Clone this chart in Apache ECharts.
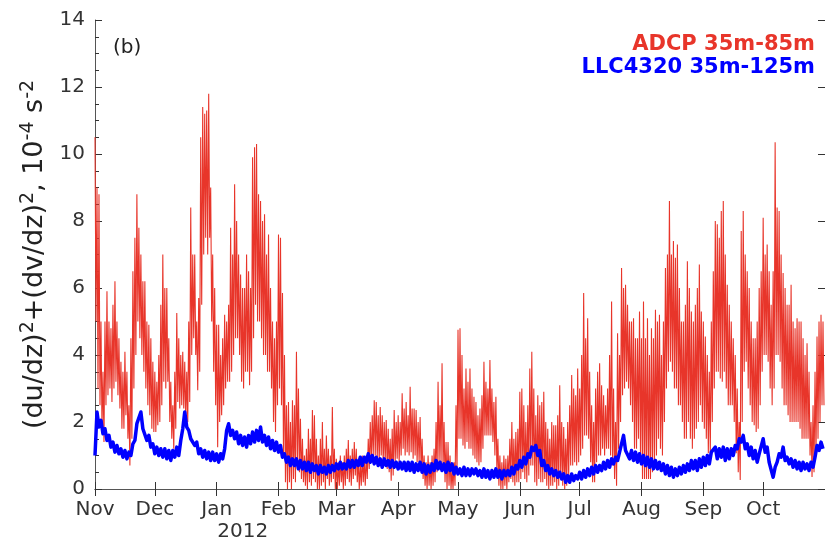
<!DOCTYPE html>
<html>
<head>
<meta charset="utf-8">
<script src="https://cdn.jsdelivr.net/npm/echarts@6/dist/echarts.min.js"></script>
<style>html,body{margin:0;padding:0;background:#fff}#c{width:825px;height:543px}</style>
</head>
<body>
<div id="c"></div>
<script>
// Daily readings, 1 Nov 2011 .. 31 Oct 2012
const startDate = '2011-11-01';
const monthNames = ['Jan','Feb','Mar','Apr','May','Jun','Jul','Aug','Sep','Oct','Nov','Dec'];
const yearLabel = '2012';
const yTicks = {min: 0, max: 14, interval: 2};
const adcpName = 'ADCP 35m-85m';
const llcName = 'LLC4320 35m-125m';

// ADCP daily maximum
const adcpMax = [
10.5,9.0,8.8,5.0,3.5,5.0,5.9,5.0,4.8,5.5,
6.2,5.0,4.5,3.8,3.5,4.1,3.5,2.5,4.5,6.5,
7.5,8.8,7.8,7.0,6.2,6.2,5.0,4.9,4.5,3.8,
3.5,3.2,4.0,5.5,7.0,6.0,6.0,4.5,3.2,2.5,
3.5,5.25,4.5,4.0,4.1,3.8,3.5,5.0,8.4,7.0,
7.0,5.0,5.7,10.5,11.4,11.2,11.3,11.8,9.0,7.0,
6.0,4.9,4.9,4.0,4.5,5.2,5.0,5.5,7.8,7.0,
9.1,8.0,7.0,6.4,6.0,6.0,7.0,6.5,6.0,9.9,
10.2,10.3,8.8,8.6,8.0,8.2,7.0,7.6,6.0,5.0,
4.5,5.0,7.6,7.5,5.85,4.0,2.5,2.6,2.0,2.65,
2.5,4.1,3.0,2.1,1.5,1.0,1.2,1.8,1.5,2.36,
2.2,1.5,1.0,1.5,2.0,1.2,1.6,1.2,1.0,2.45,
1.2,0.9,0.8,1.0,0.8,1.0,1.2,1.46,1.0,1.2,
1.4,1.2,0.9,0.8,1.0,0.9,1.0,1.5,2.0,2.2,
2.65,2.6,2.2,2.45,2.2,2.0,2.06,1.8,1.5,1.8,
2.36,2.0,2.2,2.0,2.86,2.4,2.6,2.2,3.05,2.4,
2.4,2.36,2.0,2.15,1.5,1.0,0.8,1.0,0.8,1.0,
1.2,2.0,3.2,2.5,3.75,2.0,1.4,1.4,1.0,0.6,
0.8,2.5,4.75,4.8,4.0,3.0,3.6,3.2,3.6,3.0,
2.75,2.6,2.2,2.4,2.8,3.8,3.2,3.0,3.85,3.0,
2.6,2.75,1.5,1.0,0.8,1.0,0.9,1.0,1.5,2.0,
1.5,1.7,1.8,2.9,3.0,2.5,2.0,2.5,3.6,4.1,
3.0,2.2,2.8,2.5,2.6,2.9,2.0,1.8,1.5,2.0,
1.9,1.9,2.2,3.1,2.0,1.85,1.5,2.0,2.5,3.4,
3.0,2.8,3.6,3.0,4.0,5.85,4.5,5.1,3.5,2.5,
2.0,3.0,3.5,3.75,3.1,2.8,2.5,3.0,4.0,5.6,
3.0,2.0,4.65,4.0,6.6,6.0,6.1,5.5,5.0,5.0,
5.1,4.5,4.5,5.3,4.5,5.6,4.5,5.1,4.0,4.8,
4.5,5.35,5.0,5.2,4.0,5.0,6.6,7.0,8.6,7.0,
7.4,6.9,7.3,6.0,5.0,5.0,5.5,6.8,6.0,5.3,
5.0,5.5,6.0,6.7,5.3,5.0,4.55,4.0,3.5,5.0,
6.5,8.0,7.9,7.5,8.3,8.6,7.0,6.1,5.5,5.0,
4.5,4.0,3.0,2.0,7.7,8.3,7.0,6.5,6.0,5.0,
4.5,4.5,5.0,6.0,6.5,8.1,7.0,7.3,6.5,5.5,
6.5,10.35,8.4,8.3,7.0,6.45,6.0,5.5,5.5,6.1,
5.0,4.8,5.1,5.0,5.0,4.5,4.0,4.35,3.5,2.0,
2.5,3.5,4.55,5.0,5.2,5.0
];

// ADCP daily minimum
const adcpMin = [
5.0,3.0,2.5,1.8,1.4,2.5,2.8,3.0,2.6,3.0,
3.2,2.8,2.4,1.8,1.8,2.2,1.5,0.7,1.5,3.0,
4.0,5.0,4.5,4.0,3.5,3.0,2.5,2.2,1.8,1.7,
1.7,1.9,2.0,2.5,3.2,3.0,3.2,2.0,1.5,1.2,
1.8,2.6,2.4,2.5,2.4,2.0,2.0,2.6,4.0,4.5,
4.0,2.95,3.5,5.5,7.0,7.5,7.0,7.5,5.0,3.5,
2.5,1.25,2.0,2.2,2.5,3.0,3.2,3.2,3.5,4.0,
4.5,4.5,4.0,3.2,3.0,3.5,3.5,3.1,3.5,4.5,
5.5,5.0,5.0,4.5,4.0,4.0,3.5,3.5,3.0,2.0,
1.7,2.5,3.0,2.5,1.0,0.2,0.0,0.2,0.0,0.3,
0.2,0.8,0.5,0.3,0.2,0.1,0.0,0.2,0.1,0.3,
0.2,0.0,0.0,0.1,0.2,0.0,0.3,0.1,0.2,0.3,
0.0,0.0,0.1,0.2,0.0,0.1,0.3,0.2,0.1,0.3,
0.4,0.2,0.0,0.1,0.2,0.1,0.3,0.6,0.8,1.0,
1.0,0.9,0.8,1.0,0.8,0.8,0.6,0.5,0.25,0.4,
0.8,0.9,0.8,1.0,1.2,1.0,1.1,1.0,1.1,0.9,
1.0,0.8,0.8,0.6,0.3,0.1,0.0,0.1,0.0,0.1,
0.2,0.5,0.8,0.8,0.6,0.2,0.0,0.1,0.0,0.0,
0.1,0.5,1.5,1.5,1.3,1.2,1.4,1.2,1.2,1.0,
0.9,0.8,0.7,0.8,1.2,1.6,1.6,1.6,1.6,1.4,
1.0,0.5,0.1,0.0,0.0,0.1,0.0,0.2,0.3,0.2,
0.1,0.2,0.2,0.3,0.5,0.3,0.2,0.4,0.7,0.7,
0.2,0.1,0.3,0.2,0.2,0.3,0.1,0.0,0.1,0.1,
0.2,0.0,0.1,0.3,0.1,0.0,0.1,0.4,0.7,0.7,
0.8,0.7,0.8,1.0,1.2,1.6,1.6,1.5,0.8,0.2,
0.2,0.8,1.0,1.0,1.2,1.0,1.2,1.2,1.0,0.7,
0.3,0.1,1.2,2.0,2.8,3.0,3.2,3.0,2.5,2.0,
1.2,1.2,1.5,1.0,0.3,0.3,0.3,0.3,0.3,0.5,
0.8,1.0,1.5,1.2,1.0,2.0,3.0,3.5,3.8,3.5,
3.0,3.0,2.5,2.5,2.0,1.5,1.5,2.0,1.5,1.2,
1.5,1.8,2.0,2.5,2.0,1.8,1.5,1.07,1.07,2.0,
3.0,3.5,3.5,3.3,3.2,3.5,3.0,2.5,2.5,2.5,
2.0,1.07,0.5,0.27,2.0,3.5,3.8,3.0,2.5,2.0,
1.9,1.7,1.8,2.5,3.5,4.0,4.0,3.8,3.0,2.5,
3.0,4.0,4.0,3.8,3.0,2.5,2.5,2.2,2.0,2.0,
2.0,2.0,2.0,1.8,1.5,1.5,1.5,1.5,1.0,0.36,
0.5,1.0,1.5,2.0,2.5,2.5
];

// LLC4320 daily values
const llc = [
1.0,2.3,1.85,2.05,1.65,1.8,1.45,1.6,1.25,1.4,
1.1,1.3,1.05,1.2,0.95,1.15,0.9,1.1,1.0,1.35,
1.45,1.95,1.9,2.3,1.8,1.75,1.45,1.6,1.25,1.35,
1.05,1.25,1.0,1.2,0.95,1.2,0.9,1.15,0.85,1.15,
0.95,1.25,1.0,1.45,1.8,2.3,1.85,1.75,1.5,1.55,
1.3,1.4,1.05,1.2,0.95,1.15,0.9,1.1,0.85,1.1,
0.85,1.05,0.8,1.05,0.9,1.2,1.75,1.95,1.6,1.75,
1.5,1.7,1.35,1.6,1.3,1.55,1.25,1.6,1.35,1.7,
1.4,1.75,1.45,1.85,1.4,1.6,1.3,1.55,1.2,1.45,
1.15,1.4,1.1,1.3,0.95,1.05,0.8,0.95,0.7,0.9,
0.7,0.9,0.6,0.85,0.6,0.8,0.55,0.8,0.5,0.75,
0.55,0.7,0.45,0.7,0.5,0.65,0.45,0.7,0.5,0.7,
0.55,0.75,0.6,0.8,0.6,0.75,0.6,0.85,0.65,0.85,
0.65,0.85,0.7,0.95,0.7,0.95,0.8,1.05,0.8,1.0,
0.75,0.95,0.7,0.9,0.65,0.9,0.7,0.85,0.65,0.85,
0.65,0.8,0.6,0.8,0.6,0.8,0.55,0.8,0.55,0.8,
0.5,0.75,0.55,0.8,0.5,0.75,0.45,0.7,0.5,0.75,
0.55,0.85,0.6,0.8,0.55,0.75,0.5,0.8,0.55,0.75,
0.45,0.65,0.45,0.6,0.4,0.65,0.4,0.6,0.4,0.6,
0.45,0.6,0.4,0.55,0.35,0.6,0.35,0.55,0.3,0.55,
0.35,0.6,0.35,0.55,0.3,0.55,0.4,0.55,0.4,0.65,
0.45,0.7,0.6,0.85,0.65,0.95,0.75,1.05,0.95,1.25,
1.15,1.3,1.0,1.15,0.7,0.85,0.55,0.7,0.45,0.6,
0.4,0.55,0.35,0.5,0.3,0.45,0.2,0.4,0.2,0.45,
0.25,0.4,0.3,0.5,0.3,0.55,0.35,0.6,0.4,0.65,
0.45,0.7,0.5,0.7,0.55,0.8,0.6,0.85,0.65,0.9,
0.75,0.95,0.85,1.1,1.05,1.6,1.15,1.15,0.9,1.15,
0.85,1.1,0.8,1.05,0.75,1.0,0.7,0.95,0.65,0.9,
0.6,0.85,0.6,0.8,0.55,0.75,0.45,0.7,0.4,0.65,
0.35,0.6,0.4,0.65,0.45,0.7,0.5,0.75,0.55,0.85,
0.6,0.85,0.55,0.9,0.65,0.95,0.7,1.0,0.75,1.1,
1.05,1.25,0.9,1.2,0.95,1.25,0.85,1.2,0.9,1.2,
1.0,1.3,1.2,1.5,1.4,1.6,1.2,1.35,1.0,1.25,
0.9,1.15,0.8,1.05,1.1,1.5,1.1,1.25,0.8,0.8,
0.35,0.65,0.8,1.05,0.95,1.25,0.85,0.95,0.75,0.9,
0.65,0.85,0.6,0.8,0.55,0.8,0.6,0.75,0.55,0.8,
0.65,0.95,1.3,1.15,1.4,1.2
];

// Half-day category axis through 1 Nov 2012 (2 slots per day)
const t0 = Date.parse(startDate + 'T00:00:00Z');
const nDays = 366;
const slots = [];
for (let i = 0; i <= nDays * 2; i++) slots.push(new Date(t0 + i * 43200000).toISOString().slice(0, 13));

const adcpData = [];
for (let d = 0; d < adcpMax.length; d++) {
  adcpData.push([2 * d, adcpMax[d]]);
  adcpData.push([2 * d + 1, adcpMin[d]]);
}
const llcData = llc.map((v, d) => [2 * d, v]);

const FONT = 'DejaVu Sans';
const AX = '#555';
const RED = '#e8352a';
const BLUE = '#0000ff';
const isMonthStart = (idx) => idx < slots.length - 1 && slots[idx].slice(8) === '01T00';

const chart = echarts.init(document.getElementById('c'), null, {renderer: 'canvas'});
const xCommon = {
  type: 'category',
  data: slots,
  boundaryGap: false,
  axisLine: {show: true, lineStyle: {color: AX, width: 1}},
  axisTick: {show: true, inside: true, length: 7, interval: (i) => isMonthStart(i), lineStyle: {color: '#333'}},
  splitLine: {show: false}
};
chart.setOption({
  animation: false,
  backgroundColor: '#fff',
  grid: {left: 95, right: -5, top: 20, bottom: 54},
  xAxis: [
    Object.assign({}, xCommon, {
      position: 'bottom',
      axisLabel: {
        show: true,
        interval: (i) => isMonthStart(i),
        margin: 10,
        fontFamily: FONT, fontSize: 20, color: '#333',
        formatter: (v) => {
          const m = monthNames[parseInt(v.slice(5, 7), 10) - 1];
          if (m === 'Jan') return '{m|' + m + '}\n{y|' + yearLabel + '}';
          return '{m|' + m + '}';
        },
        rich: {
          m: {fontFamily: FONT, fontSize: 20, color: '#333', lineHeight: 22},
          y: {fontFamily: FONT, fontSize: 20, color: '#333', lineHeight: 22, padding: [0, 0, 0, 52]}
        }
      }
    }),
    Object.assign({}, xCommon, {position: 'top', axisLabel: {show: false}})
  ],
  yAxis: [
    {
      type: 'value', min: yTicks.min, max: yTicks.max, interval: yTicks.interval,
      position: 'left',
      axisLine: {show: true, lineStyle: {color: AX}},
      axisTick: {show: true, inside: true, length: 7, lineStyle: {color: '#333'}},
      minorTick: {show: true, splitNumber: 4, length: 4, lineStyle: {color: '#333'}},
      splitLine: {show: false},
      axisLabel: {margin: 10, fontFamily: FONT, fontSize: 20, color: '#333'},
      name: '{b|(du/dz)}{s|2}{b|+(dv/dz)}{s|2}{b|, 10}{s|-4}{b| s}{s|-2}',
      nameLocation: 'middle',
      nameGap: 41,
      nameRotate: 90,
      nameTextStyle: {
        fontFamily: FONT, fontSize: 27, color: '#222',
        rich: {
          b: {fontFamily: FONT, fontSize: 27, color: '#222', lineHeight: 34},
          s: {fontFamily: FONT, fontSize: 19, color: '#222', lineHeight: 19, verticalAlign: 'top'}
        }
      }
    },
    {
      type: 'value', min: yTicks.min, max: yTicks.max, interval: yTicks.interval,
      position: 'right',
      axisLine: {show: true, lineStyle: {color: AX}},
      axisTick: {show: true, inside: true, length: 7, lineStyle: {color: '#333'}},
      splitLine: {show: false},
      axisLabel: {show: false}
    }
  ],
  series: [
    {
      name: adcpName, type: 'line', data: adcpData, xAxisIndex: 0, yAxisIndex: 0,
      showSymbol: false, symbol: 'none',
      lineStyle: {color: RED, width: 1.1}, itemStyle: {color: RED}, z: 2
    },
    {
      name: llcName, type: 'line', data: llcData, xAxisIndex: 0, yAxisIndex: 0,
      showSymbol: false, symbol: 'none',
      lineStyle: {color: BLUE, width: 3.5, join: 'round'}, itemStyle: {color: BLUE}, z: 3
    }
  ],
  graphic: [
    {type: 'text', left: 113, top: 38, style: {text: '(b)', font: '20px "DejaVu Sans"', fill: '#222'}},
    {type: 'text', x: 815, y: 45, style: {text: adcpName, font: 'bold 21px "DejaVu Sans"', fill: RED, textAlign: 'right', textVerticalAlign: 'middle'}},
    {type: 'text', x: 815, y: 68, style: {text: llcName, font: 'bold 21px "DejaVu Sans"', fill: BLUE, textAlign: 'right', textVerticalAlign: 'middle'}}
  ]
});
</script>
</body>
</html>
